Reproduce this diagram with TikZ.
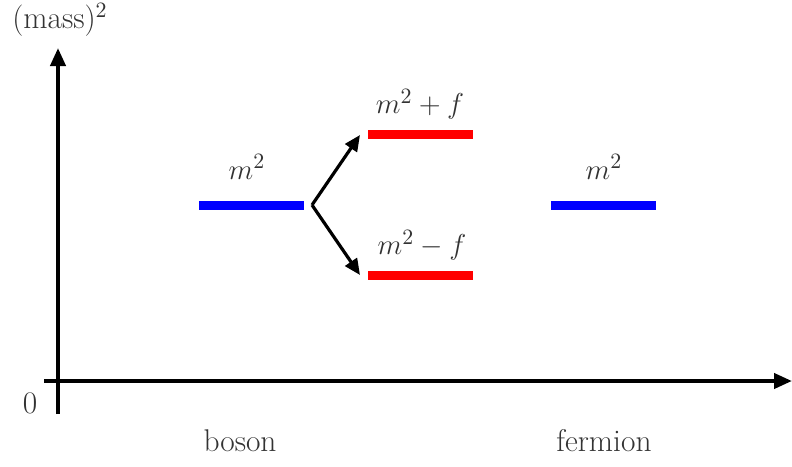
\documentclass[tikz,border=0pt]{standalone}
\usepackage{tikz}
\usetikzlibrary{arrows.meta}

\begin{document}
\begin{tikzpicture}[x=0.5pt, y=-0.5pt, font=\fontsize{15.7}{19}\selectfont]
  \useasboundingbox (0,0) rectangle (792,466);
  % Coordinates
  \coordinate (O_1) at (58, 414);
  \coordinate (O_2) at (58, 48);
  \coordinate (X_1) at (44, 381);
  \coordinate (X_2) at (792, 381);
  \coordinate (B_1) at (199, 205);
  \coordinate (B_2) at (304, 205);
  \coordinate (S) at (312, 205);
  \coordinate (U) at (360, 135);
  \coordinate (D) at (360, 275);
  \coordinate (P_1) at (368, 134);
  \coordinate (P_2) at (473, 134);
  \coordinate (M_1) at (368, 275);
  \coordinate (M_2) at (473, 275);
  \coordinate (F_1) at (551, 205);
  \coordinate (F_2) at (656, 205);

  % Drawing
  \draw[line width=2pt, -{Triangle[length=9pt, width=7.5pt]}] (O_1) -- (O_2);
  \draw[line width=2pt, -{Triangle[length=9pt, width=7.5pt]}] (X_1) -- (X_2);
  \draw[line width=4.5pt, blue] (B_1) -- (B_2);
  \draw[line width=4.5pt, blue] (F_1) -- (F_2);
  \draw[line width=4.5pt, red] (P_1) -- (P_2);
  \draw[line width=4.5pt, red] (M_1) -- (M_2);
  \draw[line width=1.6pt, -{Triangle[length=8pt, width=7pt]}] (S) -- (U);
  \draw[line width=1.6pt, -{Triangle[length=8pt, width=7pt]}] (S) -- (D);
  \node[text=black!80] (mass) at (60, 20) {(mass)$^2$};
  \node[text=black!80] (zero) at (30, 403) {0};
  \node[text=black!80] (mb) at (247, 167) {$m^2$};
  \node[text=black!80] (mp) at (420, 104) {$m^2+f$};
  \node[text=black!80] (mm) at (422, 245) {$m^2-f$};
  \node[text=black!80] (mf) at (604, 167) {$m^2$};
  \node[text=black!80] (boson) at (240, 441) {boson};
  \node[text=black!80] (fermion) at (604, 441) {fermion};
\end{tikzpicture}
\end{document}
